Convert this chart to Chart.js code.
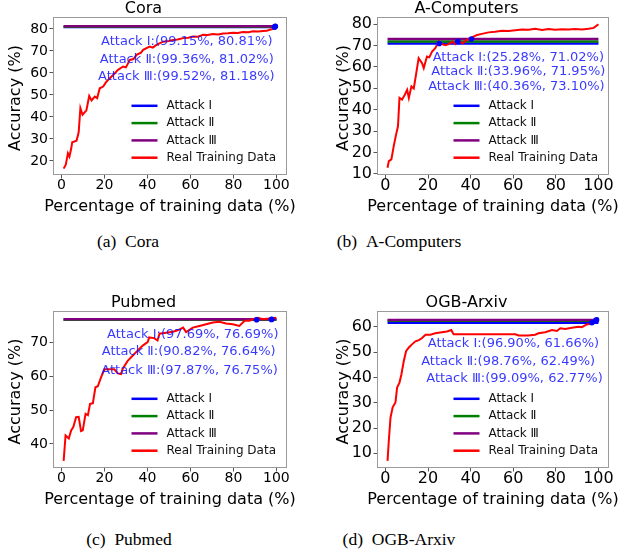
<!DOCTYPE html>
<html>
<head>
<meta charset="utf-8">
<script src="https://cdn.jsdelivr.net/npm/chart.js@4.4.0/dist/chart.umd.min.js"></script>
<style>
  body { margin: 0; background: #fff; width: 623px; height: 556px; overflow: hidden; position: relative; }
  .panel { position: absolute; }
  .cap { position: absolute; width: 200px; text-align: center; font-family: 'Liberation Serif', 'Times New Roman', serif; font-size: 17.5px; line-height: 20px; color: #000; }
</style>
</head>
<body>
<div class="panel" style="left:0px;top:0px"><canvas id="cora" width="310" height="230"></canvas></div>
<div class="panel" style="left:324px;top:0px"><canvas id="computers" width="299" height="230"></canvas></div>
<div class="panel" style="left:0px;top:294px"><canvas id="pubmed" width="310" height="230"></canvas></div>
<div class="panel" style="left:324px;top:294px"><canvas id="arxiv" width="299" height="230"></canvas></div>
<div class="cap" style="left:28px;top:231px">(a)&ensp;Cora</div>
<div class="cap" style="left:299px;top:231px">(b)&ensp;A-Computers</div>
<div class="cap" style="left:29px;top:529px">(c)&ensp;Pubmed</div>
<div class="cap" style="left:299px;top:529px">(d)&ensp;OGB-Arxiv</div>
<script>
// Real training data curves: percentage of training data vs accuracy
const coraPct = [1, 2, 3, 3.7, 4.5, 5, 7, 8, 8.8, 9.8, 11.6, 12.9, 14, 15.5, 16.6, 17.8, 19.4, 20.9, 22.5, 24,
  26.3, 28.7, 30, 31.8, 33.5, 34.9, 37, 38, 41, 42.5, 44.2, 47.3, 50, 51.9, 54, 56.6, 59, 61.2, 63.5, 65.9,
  68, 70.5, 73, 75.2, 77.5, 79.8, 82, 84.5, 87, 89.1, 91.5, 93.8, 95.5, 96.9, 98.5, 100];
const coraAcc = [16.5, 18.3, 23.5, 22, 25.5, 28.5, 29.2, 33, 44, 41, 43, 49.5, 47.5, 49.2, 48.5, 53, 53.8, 56, 57.6, 59,
  61.4, 62.9, 62.5, 65.9, 66.3, 68.2, 69.2, 70.5, 72, 71.5, 72.7, 74.2, 74.5, 75, 75.2, 75.8, 76, 76.5, 76.4, 77.3,
  77.2, 77.7, 77.5, 77.9, 78, 78.2, 78.1, 78.6, 78.5, 78.9, 78.8, 79, 79.1, 79.6, 80, 81.2];

const computersPct = [1, 1.6, 2.8, 3.9, 5, 5.9, 6.6, 7.8, 9.1, 10.2, 11, 12.2, 13.3, 14.1, 15.6, 17.2, 18, 19.5, 20.6, 21.9,
  23.4, 25, 26.6, 28.1, 29.7, 31.5, 32.8, 34.3, 36.2, 38.2, 40.6, 43, 45.3, 48.4, 51.5, 54.7, 57.8, 61, 64.1, 67.2,
  70.3, 73.5, 76.6, 79.7, 82.9, 86, 89.1, 92.3, 95.4, 97.8, 100];
const computersAcc = [12.8, 15.9, 16.7, 22.9, 28.3, 32.2, 45.5, 44.7, 47, 49.3, 45.5, 50.9, 49.9, 54.8, 64.1, 61.8, 59.5, 64.9, 64.5, 67.2,
  68.8, 71.9, 70.7, 70.2, 70.7, 71.9, 70.7, 72.2, 71.1, 72.7, 73.8, 75, 75.5, 76.2, 76.5, 77, 76.8, 77.2, 77.6, 77.4,
  77.9, 77.3, 77.8, 77.4, 77.7, 77.5, 77.8, 77.5, 77.9, 78.3, 80];

const pubmedPct = [1, 1.9, 3.4, 4.5, 5.5, 6.8, 8, 9.1, 9.9, 11.2, 12.3, 13.3, 14.6, 15.8, 16.9, 18.4, 20, 22.3, 24.6, 26.2,
  27.7, 28.5, 30.8, 33.1, 35.4, 37.8, 40.1, 40.8, 43.1, 44.7, 45.6, 48.7, 51.8, 54.1, 56.6, 58, 61.1, 64.2, 67.3, 70.4,
  73.5, 76.6, 79.7, 82.8, 85.2, 87.5, 89, 91.4, 93.7, 96.8, 100];
const pubmedAcc = [35, 42.5, 41.6, 44, 45, 47.9, 48, 43.8, 44, 48.9, 48.5, 51.8, 52, 56.7, 57, 59.6, 62, 62, 62, 60.8,
  60.6, 62.2, 64.5, 66, 67.5, 69, 70, 71.4, 71.2, 70.5, 72.5, 72.8, 73.1, 73.5, 74.3, 73, 74.3, 74.8, 75.3, 75.8,
  76, 75.5, 75.3, 74.8, 76.3, 76.3, 76.8, 77.2, 76.8, 77, 77.2];

const arxivPct = [1, 1.6, 2.4, 3.4, 4.7, 5.5, 6.6, 7.5, 8.6, 9.7, 11, 12.6, 14.1, 15.7, 17.2, 18.8, 21.1, 23.4, 26.5, 28.9,
  30.9, 32, 36, 42, 48, 55, 61, 62.5, 67, 70.3, 71.9, 75, 78.2, 80.5, 82.1, 84.4, 87.5, 90.6, 92.2, 94.5,
  96.9, 98.4, 100];
const arxivAcc = [7, 15.1, 24.2, 28.2, 30.1, 36, 38, 41.2, 46.4, 50.4, 51.9, 53.2, 54.3, 54.8, 55.6, 56.9, 56.9, 57.5, 57.9, 58.2,
  58.8, 57.1, 57.1, 57.1, 57.1, 57.1, 57.1, 56.6, 56.6, 56.9, 57.5, 57.9, 58.8, 58.4, 59.5, 59.2, 59.7, 60.1, 59.9, 61,
  61.3, 62.3, 63.6];

// Attack results: (percentage, accuracy) for Attack I, II, III
const attackNames = ['Attack \u2160', 'Attack \u2161', 'Attack \u2162'];
const coraAttackPct = [99.15, 99.36, 99.52];
const coraAttackAcc = [80.81, 81.02, 81.18];
const computersAttackPct = [25.28, 33.96, 40.36];
const computersAttackAcc = [71.02, 71.95, 73.10];
const pubmedAttackPct = [97.69, 90.82, 97.87];
const pubmedAttackAcc = [76.69, 76.64, 76.75];
const arxivAttackPct = [96.90, 98.76, 99.09];
const arxivAttackAcc = [61.66, 62.49, 62.77];

// tick labels
const xTicks = [0, 20, 40, 60, 80, 100];
const coraYTicks = [20, 30, 40, 50, 60, 70, 80];
const computersYTicks = [10, 20, 30, 40, 50, 60, 70, 80];
const pubmedYTicks = [40, 50, 60, 70];
const arxivYTicks = [10, 20, 30, 40, 50, 60];

const attackColors = ['#0000ff', '#008000', '#800080'];
const realColor = '#ff0000';

Chart.defaults.font.family = '"DejaVu Sans", sans-serif';
Chart.defaults.color = '#000';

// frame, axis titles, in-plot notes and legend
const decorPlugin = {
    id: 'decor',
    afterDraw(chart) {
        const cfg = chart.options.plugins.decor;
        const ctx = chart.ctx;
        const a = chart.chartArea;
        const sx = chart.scales.x;
        const sy = chart.scales.y;
        ctx.save();

        ctx.strokeStyle = '#9a9a9a';
        ctx.lineWidth = 1;
        ctx.strokeRect(a.left + 0.5, a.top + 0.5, a.right - a.left - 1, a.bottom - a.top - 1);

        ctx.fillStyle = '#000';
        ctx.font = '16px "DejaVu Sans"';
        ctx.textAlign = 'center';
        ctx.textBaseline = 'alphabetic';
        ctx.fillText('Percentage of training data (%)', (a.left + a.right) / 2, a.bottom + 35.5);
        ctx.save();
        ctx.translate(a.left - cfg.yTitleGap, (a.top + a.bottom) / 2 + 2);
        ctx.rotate(-Math.PI / 2);
        ctx.fillText('Accuracy (%)', 0, 0);
        ctx.restore();

        // attack notes
        ctx.font = '13px "DejaVu Sans"';
        ctx.fillStyle = 'rgba(20, 20, 255, 0.85)';
        ctx.textBaseline = 'middle';
        cfg.notes.forEach((n, i) => {
            const txt = `${attackNames[i]}:(${cfg.attackPct[i].toFixed(2)}%, ${cfg.attackAcc[i].toFixed(2)}%)`;
            ctx.fillText(txt, sx.getPixelForValue(n[0]), sy.getPixelForValue(n[1]));
        });

        // legend, lower right
        const items = chart.data.datasets.filter(d => d.inLegend);
        ctx.font = '12px "DejaVu Sans"';
        const textW = Math.max(...items.map(d => ctx.measureText(d.label).width));
        const textX = a.right - 11 - textW;
        ctx.textAlign = 'left';
        items.forEach((d, i) => {
            const y = a.bottom - 17.3 - (items.length - 1 - i) * 17.3;
            ctx.strokeStyle = d.borderColor;
            ctx.lineWidth = 2.5;
            ctx.beginPath();
            ctx.moveTo(textX - 35, y);
            ctx.lineTo(textX - 9, y);
            ctx.stroke();
            ctx.fillStyle = '#111';
            ctx.fillText(d.label, textX, y);
        });
        ctx.restore();
    }
};

function buildChart(id, p) {
    const first = p.pct[0];
    const last = p.pct[p.pct.length - 1];
    const datasets = attackNames.map((name, i) => ({
        label: name,
        data: [{ x: first, y: p.attackAcc[i] }, { x: last, y: p.attackAcc[i] }],
        borderColor: attackColors[i],
        borderWidth: 2.5,
        pointRadius: 0,
        inLegend: true,
        order: 4 - i
    }));
    datasets.push({
        label: 'Real Training Data',
        data: p.pct.map((x, i) => ({ x: x, y: p.acc[i] })),
        borderColor: realColor,
        borderWidth: 2,
        pointRadius: 0,
        tension: 0,
        inLegend: true,
        order: 1
    });
    datasets.push({
        label: 'points',
        data: p.attackPct.map((x, i) => ({ x: x, y: p.attackAcc[i] })),
        showLine: false,
        pointRadius: 2.8,
        pointBackgroundColor: '#0000ff',
        pointBorderWidth: 0,
        order: 0
    });

    const tickFont = { family: '"DejaVu Sans"', size: p.tickSize, lineHeight: 1 };
    const grid = { drawOnChartArea: false, drawTicks: true, tickLength: 3.5, tickColor: '#555', tickWidth: 1 };

    return new Chart(document.getElementById(id), {
        type: 'line',
        data: { datasets: datasets },
        options: {
            responsive: false,
            animation: false,
            devicePixelRatio: 1,
            layout: { padding: { left: 0, right: p.padRight, top: 0, bottom: 0 } },
            plugins: {
                legend: { display: false },
                tooltip: { enabled: false },
                title: {
                    display: true,
                    text: p.title,
                    color: '#000',
                    font: { size: 16, weight: 'normal', lineHeight: 17 / 16 },
                    padding: { top: 0, bottom: 0 }
                },
                decor: { notes: p.notes, attackPct: p.attackPct, attackAcc: p.attackAcc, yTitleGap: p.yTitleGap }
            },
            scales: {
                x: {
                    type: 'linear',
                    min: first - (last - first) * 0.05,
                    max: last + (last - first) * 0.05,
                    afterBuildTicks: s => { s.ticks = xTicks.map(v => ({ value: v })); },
                    afterFit: s => { s.height = p.xAxisH; },
                    grid: grid,
                    border: { display: false },
                    ticks: { font: tickFont, color: '#000', padding: p.xTickPad, maxRotation: 0, autoSkip: false }
                },
                y: {
                    type: 'linear',
                    min: p.yMin,
                    max: p.yMax,
                    afterBuildTicks: s => { s.ticks = p.yTicks.map(v => ({ value: v })); },
                    afterFit: s => { s.width = p.yAxisW; },
                    grid: grid,
                    border: { display: false },
                    ticks: { font: tickFont, color: '#000', padding: 1.5, autoSkip: false }
                }
            }
        },
        plugins: [decorPlugin]
    });
}

buildChart('cora', {
    title: 'Cora', pct: coraPct, acc: coraAcc, attackPct: coraAttackPct, attackAcc: coraAttackAcc,
    yTicks: coraYTicks, yMin: 13.6, yMax: 85.4,
    notes: [[58.3, 74], [58.3, 66.2], [58.1, 58.3]],
    yAxisW: 53, padRight: 23, xAxisH: 55, tickSize: 14, xTickPad: 0, yTitleGap: 33.5
});
buildChart('computers', {
    title: 'A-Computers', pct: computersPct, acc: computersAcc, attackPct: computersAttackPct, attackAcc: computersAttackAcc,
    yTicks: computersYTicks, yMin: 9.4, yMax: 83.4,
    notes: [[62.4, 64.4], [62.4, 57.6], [61.5, 50.9]],
    yAxisW: 53, padRight: 14, xAxisH: 55, tickSize: 16, xTickPad: -1, yTitleGap: 29
});
buildChart('pubmed', {
    title: 'Pubmed', pct: pubmedPct, acc: pubmedAcc, attackPct: pubmedAttackPct, attackAcc: pubmedAttackAcc,
    yTicks: pubmedYTicks, yMin: 32.9, yMax: 79.2,
    notes: [[61.1, 72.2], [59.2, 67.3], [59.6, 61.6]],
    yAxisW: 53, padRight: 23, xAxisH: 56, tickSize: 14, xTickPad: 0, yTitleGap: 33.5
});
buildChart('arxiv', {
    title: 'OGB-Arxiv', pct: arxivPct, acc: arxivAcc, attackPct: arxivAttackPct, attackAcc: arxivAttackAcc,
    yTicks: arxivYTicks, yMin: 4.2, yMax: 66.3,
    notes: [[60.1, 53.2], [57.6, 46.4], [60.6, 39.5]],
    yAxisW: 53, padRight: 14, xAxisH: 56, tickSize: 16, xTickPad: -1, yTitleGap: 29
});
</script>
</body>
</html>
